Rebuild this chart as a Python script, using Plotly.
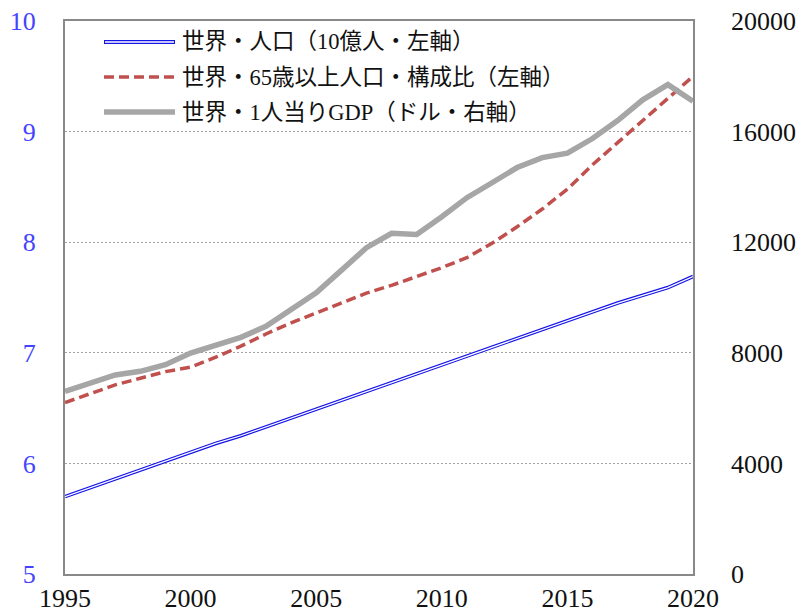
import plotly.graph_objects as go

years = list(range(1995, 2021))

# World population, billions (left axis)
population = [5.70, 5.78, 5.86, 5.94, 6.02, 6.10, 6.18, 6.25, 6.33, 6.41,
              6.49, 6.57, 6.65, 6.73, 6.81, 6.89, 6.97, 7.05, 7.13, 7.21,
              7.29, 7.37, 7.45, 7.52, 7.59, 7.69]

# Share of population aged 65+, % (left axis)
aged_share = [6.55, 6.63, 6.71, 6.77, 6.83, 6.87, 6.96, 7.06, 7.17, 7.27,
              7.36, 7.45, 7.54, 7.61, 7.69, 7.77, 7.86, 7.99, 8.14, 8.30,
              8.48, 8.70, 8.90, 9.10, 9.30, 9.50]

# GDP per capita, USD (right axis)
gdp_per_capita = [6600, 6900, 7200, 7330, 7570, 7990, 8270, 8560, 8960, 9560,
                  10170, 10980, 11800, 12320, 12280, 12920, 13610, 14150, 14700, 15060,
                  15220, 15750, 16400, 17150, 17700, 17100]

legend_labels = ["世界・人口（10億人・左軸）",
                 "世界・65歳以上人口・構成比（左軸）",
                 "世界・1人当りGDP（ドル・右軸）"]

left_ticks = [5, 6, 7, 8, 9, 10]
right_ticks = [0, 4000, 8000, 12000, 16000, 20000]
x_ticks = [1995, 2000, 2005, 2010, 2015, 2020]

FONT = "Liberation Serif, 'Noto Sans CJK JP', serif"
BLUE = "#1414e6"
RED = "#c0504d"
GRAY = "#a6a6a6"

fig = go.Figure()

fig.add_trace(go.Scatter(x=years, y=gdp_per_capita, yaxis="y2", mode="lines",
                         line=dict(color=GRAY, width=5.5), showlegend=False))
fig.add_trace(go.Scatter(x=years, y=aged_share, mode="lines",
                         line=dict(color=RED, width=3.5, dash="10px,5px"),
                         showlegend=False))
# double-line look for population: blue stroke with a white core
fig.add_trace(go.Scatter(x=years, y=population, mode="lines",
                         line=dict(color=BLUE, width=3.6), showlegend=False))
fig.add_trace(go.Scatter(x=years, y=population, mode="lines",
                         line=dict(color="white", width=1.3), showlegend=False))

# Legend drawn in paper space
W, H = 628.0, 553.0
L, T = 65.0, 21.0


def px(xp):
    return (xp - L) / W


def py(yp):
    return (T + H - yp) / H


rows = [42, 77, 112]
shapes = []
annotations = []
x0, x1, xt = 104, 175, 180
shapes.append(dict(type="line", xref="paper", yref="paper", x0=px(x0), x1=px(x1),
                   y0=py(rows[0]), y1=py(rows[0]), line=dict(color=BLUE, width=4)))
shapes.append(dict(type="line", xref="paper", yref="paper", x0=px(x0 + 1), x1=px(x1 - 1),
                   y0=py(rows[0]), y1=py(rows[0]), line=dict(color="white", width=1.5)))
shapes.append(dict(type="line", xref="paper", yref="paper", x0=px(x0), x1=px(x1),
                   y0=py(rows[1]), y1=py(rows[1]),
                   line=dict(color=RED, width=3.5, dash="10px,5px")))
shapes.append(dict(type="line", xref="paper", yref="paper", x0=px(x0), x1=px(x1),
                   y0=py(rows[2]), y1=py(rows[2]), line=dict(color=GRAY, width=5.5)))
for r, label in zip(rows, legend_labels):
    annotations.append(dict(xref="paper", yref="paper", x=px(xt), y=py(r),
                            xanchor="left", yanchor="middle", text=label,
                            showarrow=False,
                            font=dict(family=FONT, size=22.5, color="#111111")))

fig.update_layout(
    width=798, height=613,
    margin=dict(l=65, r=105, t=21, b=39),
    paper_bgcolor="white", plot_bgcolor="white",
    font=dict(family=FONT, size=26, color="#111111"),
    shapes=shapes, annotations=annotations,
    xaxis=dict(range=[1995, 2020], tickvals=x_ticks, ticktext=[str(v) for v in x_ticks],
               showgrid=False, zeroline=False, showline=True, mirror=True,
               linecolor="#898989", linewidth=2, ticks="", automargin=False,
               tickfont=dict(family=FONT, size=26, color="#111111")),
    yaxis=dict(range=[5, 10], tickvals=left_ticks, ticktext=[str(v) for v in left_ticks],
               showgrid=True, gridcolor="#a0a0a0", gridwidth=1, griddash="2px,2px",
               zeroline=False, showline=True, mirror=True,
               linecolor="#898989", linewidth=2, ticks="", automargin=False,
               ticklabelstandoff=22,
               tickfont=dict(family=FONT, size=26, color="#4444ff")),
    yaxis2=dict(range=[0, 20000], tickvals=right_ticks, ticktext=[str(v) for v in right_ticks],
                overlaying="y", side="right", showgrid=False, zeroline=False,
                showline=False, ticks="", ticklabelstandoff=37, automargin=False,
                tickfont=dict(family=FONT, size=26, color="#111111")),
)

fig.write_html("out.html")
